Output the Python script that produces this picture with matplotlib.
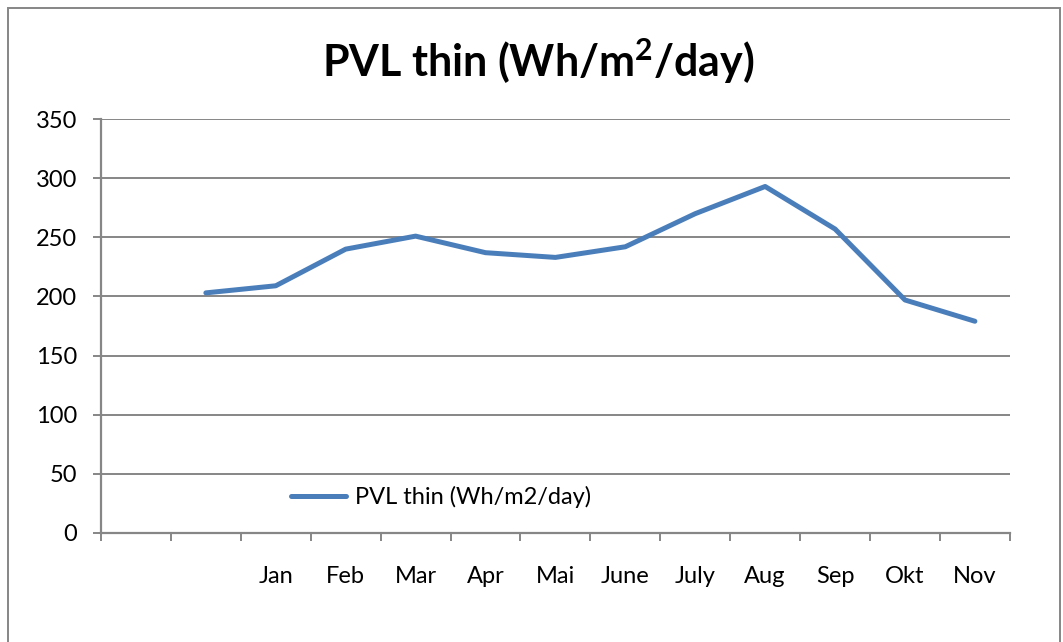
import numpy as np
import matplotlib.pyplot as plt
from matplotlib.patches import Rectangle

# ─────────────────────────────────────────────────────────────
# Data
# ─────────────────────────────────────────────────────────────
categories = ["", "", "Jan", "Feb", "Mar", "Apr", "Mai", "June",
              "July", "Aug", "Sep", "Okt", "Nov"]
pvl_thin = [np.nan, 203, 209, 240, 251, 237, 233, 242,
            270, 293, 257, 197, 179]
y_ticks = [0, 50, 100, 150, 200, 250, 300, 350]

plt.rcParams["font.family"] = ["Lato", "DejaVu Sans"]
plt.rcParams["mathtext.fontset"] = "custom"
plt.rcParams["mathtext.rm"] = "Lato"
plt.rcParams["mathtext.bf"] = "Lato:bold"
grid_gray = "#868686"
blue = "#4A7EBB"

fig = plt.figure(figsize=(10.63, 6.42), dpi=100)
ax = fig.add_axes([0.095, 0.170, 0.855, 0.6445])

x = np.arange(len(categories))
ax.plot(x, pvl_thin, color=blue, linewidth=3.6, solid_capstyle="round",
        solid_joinstyle="round", label="PVL thin (Wh/m2/day)")

ax.set_xlim(-0.5, len(categories) - 0.5)
ax.set_ylim(0, 350)
ax.set_yticks(y_ticks)
ax.yaxis.grid(True, color=grid_gray, linewidth=1.4)
ax.set_axisbelow(True)

# category boundaries carry the tick marks, centres carry the labels
ax.set_xticks(np.arange(-0.5, len(categories)), labels=[])
ax.set_xticks(x, labels=categories, minor=True)
ax.tick_params(axis="x", which="major", length=6, width=1.4, color=grid_gray,
               direction="out")
ax.tick_params(axis="x", which="minor", length=0, pad=24, labelsize=17)
ax.tick_params(axis="y", length=6, width=1.4, color=grid_gray, pad=11,
               labelsize=17)

for side in ["top", "right"]:
    ax.spines[side].set_visible(False)
for side in ["left", "bottom"]:
    ax.spines[side].set_color(grid_gray)
    ax.spines[side].set_linewidth(1.6)

fig.text(0.506, 0.905, r"PVL thin (Wh/m$^\mathbf{2}$/day)", ha="center",
         va="center", fontsize=31, fontweight="bold")

ax.legend(loc="center left", bbox_to_anchor=(0.186, 0.086), frameon=False,
          fontsize=17, handlelength=2.3, handletextpad=0.4)

# outer chart frame
fig.add_artist(Rectangle((0.0075, -0.02), 0.99, 1.007, transform=fig.transFigure,
                         fill=False, edgecolor=grid_gray, linewidth=1.4))

fig.savefig("out.png", dpi=100)
